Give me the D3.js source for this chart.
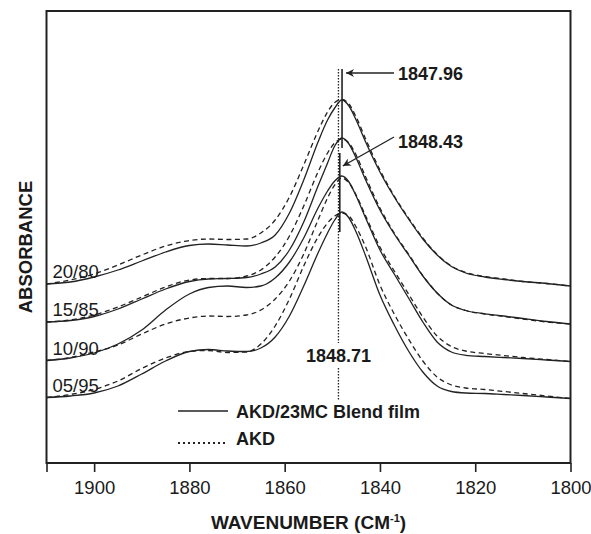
<!DOCTYPE html>
<html>
<head>
<meta charset="utf-8">
<script src="https://cdn.jsdelivr.net/npm/d3@7"></script>
<style>
  body { margin: 0; background: #fff; }
  text { font-family: "Liberation Sans", Arial, Helvetica, sans-serif; fill: #1a1a1a; }
</style>
</head>
<body>
<script type="text/javascript">
    const Width = 591;
    const Height = 534;

    // wavenumber grid (cm-1)
    const wavenumber = [1910, 1905, 1900, 1895, 1890, 1885, 1880, 1876, 1872, 1868, 1865, 1862, 1859, 1856, 1853, 1851,
        1849.5, 1848, 1846.5, 1845, 1843, 1840, 1837, 1834, 1831, 1828, 1825, 1822, 1818, 1814, 1810, 1805, 1800];

    // absorbance (offset, arb. units) - blend film (solid) and AKD (dashed)
    const blend_20_80 = [1.79, 1.81, 1.86, 1.93, 2.02, 2.11, 2.175, 2.19, 2.18, 2.17, 2.20, 2.28, 2.50, 2.83, 3.21, 3.43,
        3.55, 3.63, 3.57, 3.43, 3.21, 2.91, 2.66, 2.44, 2.24, 2.08, 1.965, 1.90, 1.86, 1.835, 1.815, 1.795, 1.77];
    const akd_20_80 = [1.79, 1.83, 1.89, 1.98, 2.08, 2.17, 2.225, 2.24, 2.235, 2.24, 2.30, 2.43, 2.66, 2.98, 3.32, 3.51,
        3.605, 3.635, 3.59, 3.46, 3.24, 2.93, 2.67, 2.45, 2.25, 2.085, 1.97, 1.905, 1.865, 1.84, 1.815, 1.795, 1.77];

    const blend_15_85 = [1.41, 1.425, 1.465, 1.54, 1.64, 1.74, 1.815, 1.84, 1.845, 1.855, 1.89, 1.96, 2.13, 2.41, 2.77, 3.00,
        3.17, 3.25, 3.19, 3.05, 2.83, 2.53, 2.29, 2.08, 1.87, 1.70, 1.58, 1.525, 1.492, 1.47, 1.445, 1.415, 1.39];
    const akd_15_85 = [1.41, 1.43, 1.48, 1.56, 1.66, 1.76, 1.83, 1.845, 1.845, 1.87, 1.93, 2.06, 2.27, 2.57, 2.91, 3.10,
        3.20, 3.24, 3.20, 3.08, 2.86, 2.55, 2.30, 2.09, 1.875, 1.70, 1.58, 1.525, 1.49, 1.465, 1.44, 1.41, 1.39];

    const blend_10_90 = [1.025, 1.05, 1.10, 1.19, 1.33, 1.53, 1.69, 1.755, 1.77, 1.755, 1.77, 1.85, 2.01, 2.25, 2.55, 2.72,
        2.82, 2.87, 2.81, 2.67, 2.45, 2.13, 1.89, 1.65, 1.41, 1.21, 1.11, 1.077, 1.065, 1.055, 1.045, 1.03, 1.015];
    const akd_10_90 = [1.025, 1.055, 1.11, 1.18, 1.29, 1.39, 1.45, 1.47, 1.465, 1.48, 1.53, 1.64, 1.82, 2.09, 2.43, 2.65,
        2.78, 2.85, 2.80, 2.68, 2.47, 2.16, 1.92, 1.69, 1.46, 1.27, 1.165, 1.12, 1.095, 1.075, 1.055, 1.035, 1.015];

    const blend_05_95 = [0.655, 0.67, 0.70, 0.77, 0.89, 1.02, 1.115, 1.135, 1.12, 1.115, 1.15, 1.26, 1.47, 1.77, 2.10, 2.30,
        2.43, 2.51, 2.45, 2.31, 2.07, 1.68, 1.38, 1.12, 0.91, 0.77, 0.715, 0.70, 0.695, 0.685, 0.675, 0.66, 0.645];
    const akd_05_95 = [0.655, 0.685, 0.735, 0.82, 0.945, 1.05, 1.115, 1.125, 1.105, 1.11, 1.19, 1.37, 1.64, 1.97, 2.26, 2.40,
        2.47, 2.50, 2.47, 2.36, 2.16, 1.78, 1.49, 1.24, 1.02, 0.86, 0.78, 0.75, 0.735, 0.715, 0.695, 0.67, 0.645];

    const ratios = ["20/80", "15/85", "10/90", "05/95"];
    const blendSeries = [blend_20_80, blend_15_85, blend_10_90, blend_05_95];
    const akdSeries = [akd_20_80, akd_15_85, akd_10_90, akd_05_95];

    const tickValues = [1910, 1900, 1880, 1860, 1840, 1820, 1800];
    const peakBlendTop = 1847.96;
    const peakBlendMid = 1848.43;
    const peakAkd = 1848.71;

    const legendNames = ["AKD/23MC Blend film", "AKD"];

    const svg = d3.select("body")
     .append("svg")
     .attr("width", Width)
     .attr("height", Height);

    const x = d3.scaleLinear().domain([1910, 1800]).range([46.5, 570.5]);
    const y = d3.scaleLinear().domain([0, 4.52]).range([463, 11]);

    const line = d3.line()
     .x((d, i) => x(wavenumber[i]))
     .y(d => y(d))
     .curve(d3.curveMonotoneX);

    // frame
    svg.append("rect")
     .attr("x", x(1910))
     .attr("y", y(4.52))
     .attr("width", x(1800) - x(1910))
     .attr("height", y(0) - y(4.52))
     .attr("fill", "none")
     .attr("stroke", "#222")
     .attr("stroke-width", 2);

    // bottom axis
    const axis = svg.append("g")
     .attr("transform", "translate(0," + y(0) + ")")
     .call(d3.axisBottom(x)
        .tickValues(tickValues)
        .tickSize(9)
        .tickPadding(9)
        .tickFormat(d => d === 1910 ? "" : d));
    axis.select(".domain").remove();
    axis.selectAll(".tick line").attr("stroke", "#222").attr("stroke-width", 1.6);
    axis.selectAll(".tick text")
     .attr("fill", "#1a1a1a")
     .style("font-size", "18.5px")
     .style("font-family", "'Liberation Sans', Arial, sans-serif");

    // spectra
    svg.selectAll("path.akd")
     .data(akdSeries)
     .enter()
     .append("path")
     .attr("class", "akd")
     .attr("d", line)
     .attr("fill", "none")
     .attr("stroke", "#222")
     .attr("stroke-width", 1.3)
     .attr("stroke-dasharray", "5,3.5");

    svg.selectAll("path.blend")
     .data(blendSeries)
     .enter()
     .append("path")
     .attr("class", "blend")
     .attr("d", line)
     .attr("fill", "none")
     .attr("stroke", "#222")
     .attr("stroke-width", 1.3);

    // ratio labels
    svg.selectAll("text.ratio")
     .data(ratios)
     .enter()
     .append("text")
     .attr("class", "ratio")
     .attr("x", x(1910) + 6)
     .attr("y", (d, i) => y(blendSeries[i][0]) - 6)
     .style("font-size", "18.5px")
     .text(d => d);

    // peak marker lines
    svg.append("line")
     .attr("x1", x(peakAkd)).attr("x2", x(peakAkd))
     .attr("y1", 69).attr("y2", 343)
     .attr("stroke", "#222").attr("stroke-width", 1.3)
     .attr("stroke-dasharray", "1.5,1.5");
    svg.append("line")
     .attr("x1", x(peakAkd)).attr("x2", x(peakAkd))
     .attr("y1", 368).attr("y2", 400)
     .attr("stroke", "#222").attr("stroke-width", 1.3)
     .attr("stroke-dasharray", "1.5,1.5");
    svg.append("line")
     .attr("x1", x(peakBlendTop)).attr("x2", x(peakBlendTop))
     .attr("y1", 69).attr("y2", 148)
     .attr("stroke", "#222").attr("stroke-width", 1.6);
    svg.append("line")
     .attr("x1", x(peakBlendMid)).attr("x2", x(peakBlendMid))
     .attr("y1", 153).attr("y2", 232)
     .attr("stroke", "#222").attr("stroke-width", 1.6);

    // arrows
    const defs = svg.append("defs");
    defs.append("marker")
     .attr("id", "arrow")
     .attr("viewBox", "0 0 10 10")
     .attr("refX", 10).attr("refY", 5)
     .attr("markerWidth", 11).attr("markerHeight", 8)
     .attr("markerUnits", "userSpaceOnUse")
     .attr("orient", "auto")
     .append("path")
     .attr("d", "M0,0 L10,5 L0,10 L3,5 Z")
     .attr("fill", "#222");

    svg.append("line")
     .attr("x1", 394).attr("y1", 73)
     .attr("x2", x(peakBlendTop) + 4).attr("y2", 73)
     .attr("stroke", "#222").attr("stroke-width", 1.3)
     .attr("marker-end", "url(#arrow)");
    svg.append("line")
     .attr("x1", 394).attr("y1", 137)
     .attr("x2", x(peakBlendMid) + 3).attr("y2", 166)
     .attr("stroke", "#222").attr("stroke-width", 1.3)
     .attr("marker-end", "url(#arrow)");

    svg.append("text")
     .attr("x", 398).attr("y", 79.5)
     .style("font-size", "18px").style("font-weight", "bold")
     .text(peakBlendTop.toFixed(2));
    svg.append("text")
     .attr("x", 398).attr("y", 148)
     .style("font-size", "18px").style("font-weight", "bold")
     .text(peakBlendMid.toFixed(2));
    svg.append("text")
     .attr("x", x(peakAkd)).attr("y", 362)
     .attr("text-anchor", "middle")
     .style("font-size", "18px").style("font-weight", "bold")
     .text(peakAkd.toFixed(2));

    // legend
    const legend = svg.append("g");
    legend.append("line")
     .attr("x1", 178).attr("x2", 228).attr("y1", 411).attr("y2", 411)
     .attr("stroke", "#222").attr("stroke-width", 1.6);
    legend.append("line")
     .attr("x1", 178).attr("x2", 227).attr("y1", 443).attr("y2", 443)
     .attr("stroke", "#222").attr("stroke-width", 2)
     .attr("stroke-dasharray", "2,3");
    legend.selectAll("text")
     .data(legendNames)
     .enter()
     .append("text")
     .attr("x", 236)
     .attr("y", (d, i) => 417.5 + i * 27)
     .style("font-size", "18px").style("font-weight", "bold")
     .text(d => d);

    // axis titles
    const xt = svg.append("text")
     .attr("x", (x(1910) + x(1800)) / 2)
     .attr("y", 529)
     .attr("text-anchor", "middle")
     .style("font-size", "19px").style("font-weight", "bold");
    xt.append("tspan").text("WAVENUMBER (CM");
    xt.append("tspan").attr("dy", -7).style("font-size", "11px").text("-1");
    xt.append("tspan").attr("dy", 7).text(")");

    svg.append("text")
     .attr("transform", "translate(31.5," + 247 + ") rotate(-90)")
     .attr("text-anchor", "middle")
     .style("font-size", "18.5px").style("font-weight", "bold")
     .text("ABSORBANCE");
</script>
</body>
</html>
